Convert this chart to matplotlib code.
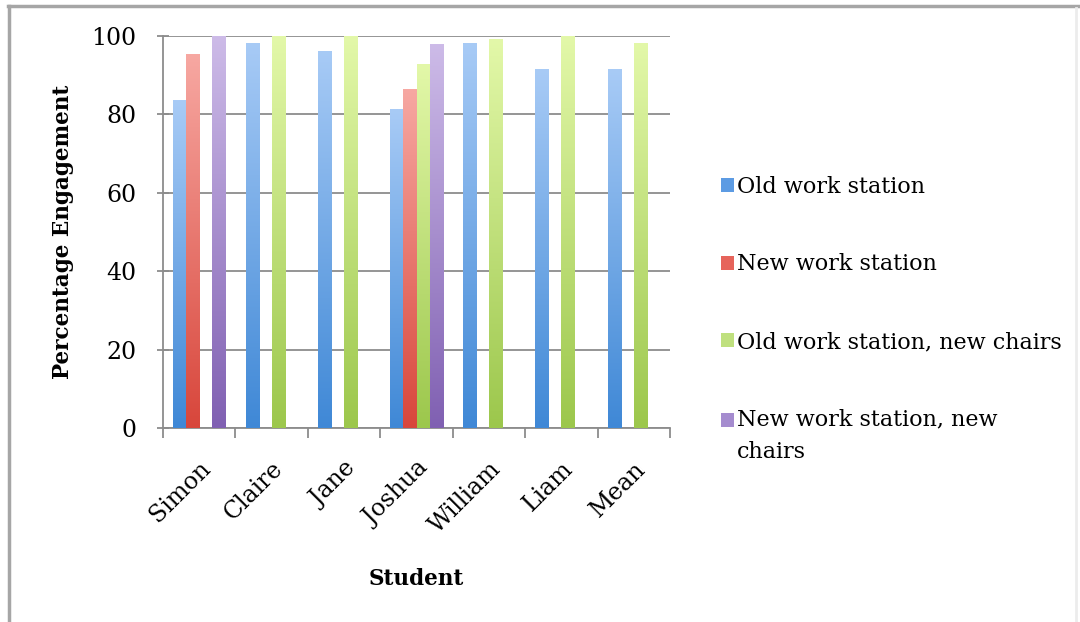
import numpy as np
import matplotlib
matplotlib.use("Agg")
import matplotlib.pyplot as plt
from matplotlib.patches import Rectangle
from matplotlib.lines import Line2D
from matplotlib.colors import LinearSegmentedColormap

# Engagement data per student
students = ["Simon", "Claire", "Jane", "Joshua", "William", "Liam", "Mean"]
old_station = [83.6, 98.3, 96.3, 81.3, 98.3, 91.5, 91.5]
new_station = [95.3, np.nan, np.nan, 86.4, np.nan, np.nan, np.nan]
old_station_new_chairs = [np.nan, 100.0, 100.0, 92.9, 99.2, 100.0, 98.3]
new_station_new_chairs = [100.0, np.nan, np.nan, 97.9, np.nan, np.nan, np.nan]

series_labels = ["Old work station", "New work station",
                 "Old work station, new chairs", "New work station, new\nchairs"]
series_values = [old_station, new_station, old_station_new_chairs, new_station_new_chairs]
# (top colour, bottom colour) for each series gradient
series_colors = [("#a8cbf6", "#3f88d6"), ("#f7a8a2", "#d8463b"),
                 ("#e3f8a9", "#9cc74c"), ("#cdbbe8", "#8060b2")]
legend_colors = ["#5c9be3", "#e6645b", "#bfe07e", "#a58ccf"]

plt.rcParams["font.family"] = ["DejaVu Serif"]

fig = plt.figure(figsize=(10.8, 6.22), dpi=100)
fig.patch.set_facecolor("white")
ax = fig.add_axes([0.1509, 0.3119, 0.4695, 0.6302])

# outer chart frame: grey top and left edges, faint right edge
W, H = 1080.0, 622.0
fig.lines.append(Line2D([8 / W, 1.0], [1 - 6 / H, 1 - 6 / H], transform=fig.transFigure,
                        color="#a6a6a6", linewidth=2.5))
fig.lines.append(Line2D([9 / W, 9 / W], [0, 1 - 6 / H], transform=fig.transFigure,
                        color="#a6a6a6", linewidth=2.5))
fig.lines.append(Line2D([1076 / W, 1076 / W], [0, 1 - 8 / H], transform=fig.transFigure,
                        color="#ececec", linewidth=2))

x = np.arange(len(students))
width = 0.18
offsets = [-0.27, -0.09, 0.09, 0.27]
grad = np.linspace(0, 1, 256).reshape(-1, 1)

for vals, (ctop, cbot), off in zip(series_values, series_colors, offsets):
    bars = ax.bar(x + off, vals, width, color="none", edgecolor="none", zorder=3)
    cmap = LinearSegmentedColormap.from_list("g", [cbot, ctop])
    for b in bars:
        h = b.get_height()
        if not np.isfinite(h) or h <= 0:
            continue
        x0 = b.get_x()
        im = ax.imshow(grad, cmap=cmap, origin="lower", aspect="auto",
                       extent=(x0, x0 + b.get_width(), 0, h), zorder=3,
                       interpolation="bilinear")
        im.set_clip_path(b)

ax.set_xlim(-0.5, len(students) - 0.5)
ax.set_ylim(0, 100)
ax.set_yticks(np.arange(0, 101, 20))
ax.yaxis.grid(True, color="#8c8c8c", linewidth=1.3, zorder=1)
ax.set_axisbelow(True)

for s in ["top", "right"]:
    ax.spines[s].set_visible(False)
for s in ["left", "bottom"]:
    ax.spines[s].set_color("#8c8c8c")
    ax.spines[s].set_linewidth(1.3)

ax.set_xticks(x)
ax.set_xticklabels(students, rotation=45, ha="right", rotation_mode="anchor",
                   fontsize=17)
ax.tick_params(axis="x", which="major", length=0, pad=21)
ax.set_xticks(np.arange(-0.5, len(students), 1), minor=True)
ax.tick_params(axis="x", which="minor", length=7, width=1.3, color="#8c8c8c",
               direction="out")
ax.tick_params(axis="y", length=8, width=1.3, color="#8c8c8c", labelsize=17,
               pad=15, direction="inout")

ax.set_ylabel("Percentage Engagement", fontsize=15.5, fontweight="bold", labelpad=12.5)
ax.set_xlabel("Student", fontsize=15.5, fontweight="bold", labelpad=22)

handles = [Rectangle((0, 0), 1, 1, facecolor=c, edgecolor="none") for c in legend_colors]
leg = fig.legend(handles, series_labels, loc="upper left", bbox_to_anchor=(0.659, 0.7315),
                 frameon=False, fontsize=16, handlelength=0.6, handleheight=0.6,
                 handletextpad=0.15, labelspacing=2.5, borderaxespad=0)
for t in leg.get_texts():
    t.set_linespacing(1.6)
# keep the swatch of the two-line entry level with its first line
last = leg.legend_handles[-1]
last.set_y(last.get_y() + 11.5)

fig.savefig("out.png", dpi=100, facecolor="white")
